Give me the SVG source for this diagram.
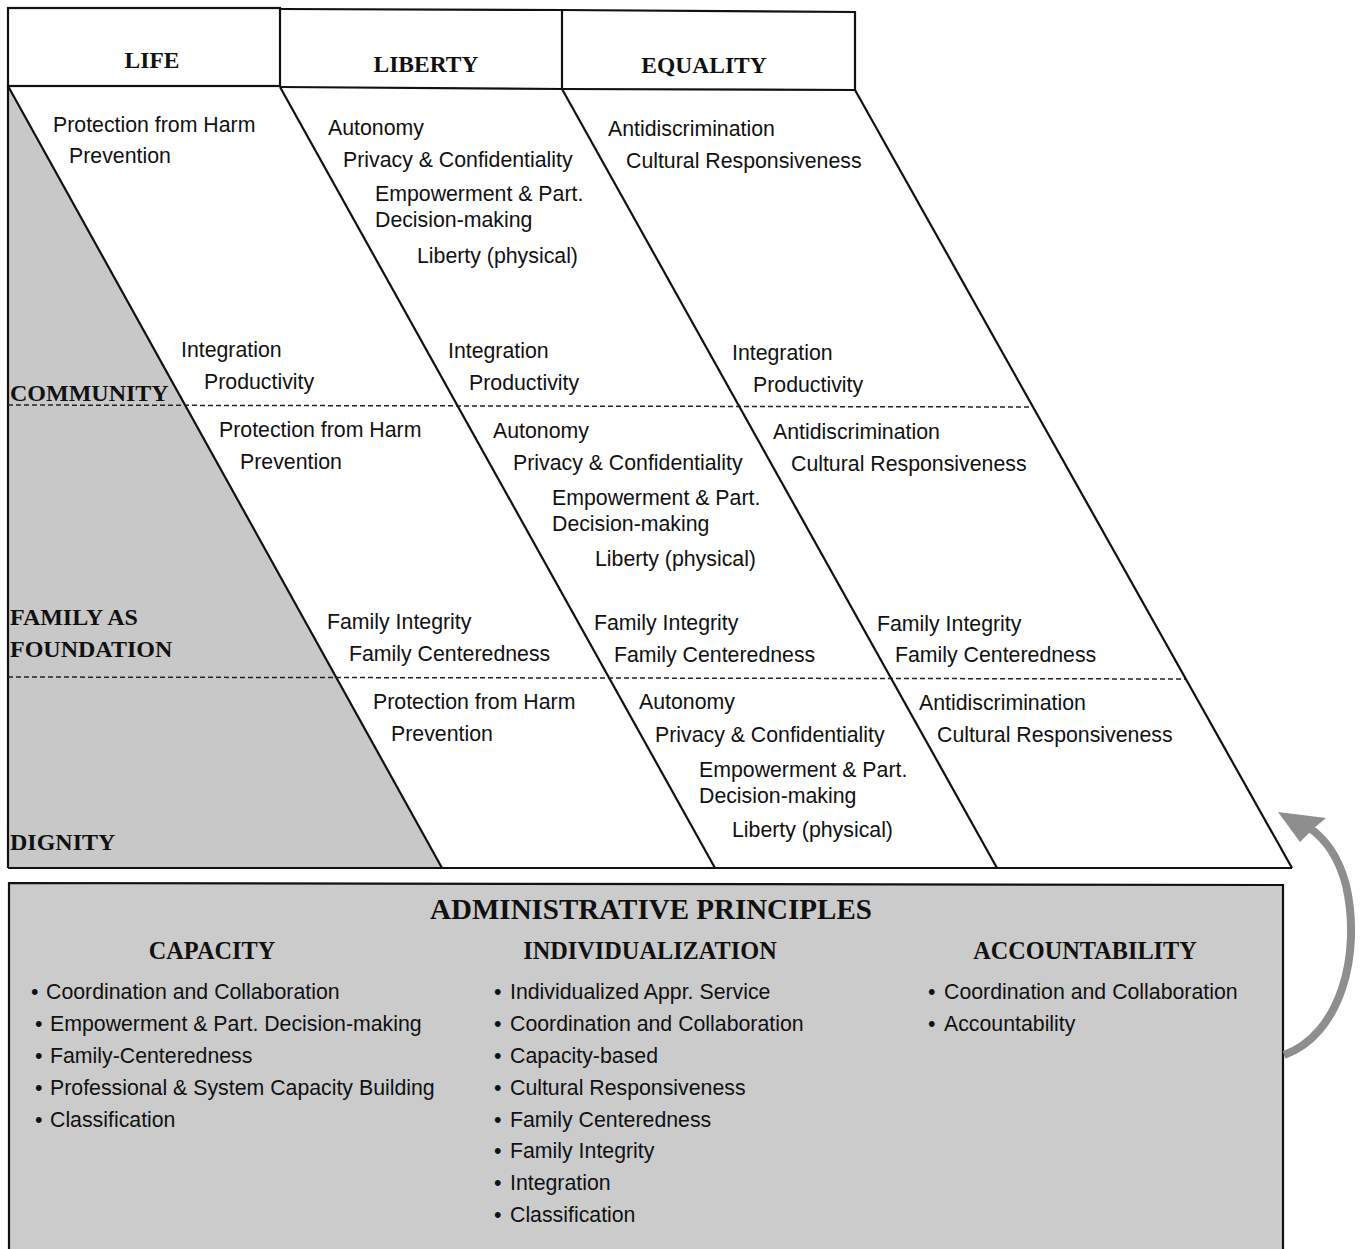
<svg xmlns="http://www.w3.org/2000/svg" width="1362" height="1249" viewBox="0 0 1362 1249">
<defs>
<style>
.ln{stroke:#111;stroke-width:2.2;fill:none}
.dash{stroke:#222;stroke-width:1.5;stroke-dasharray:5 3;fill:none}
.hd{font-family:"Liberation Serif",serif;font-weight:bold;font-size:23.5px;fill:#111;text-anchor:middle}
.rl{font-family:"Liberation Serif",serif;font-weight:bold;font-size:24px;fill:#111}
.tx{font-family:"Liberation Sans",Arial,sans-serif;font-size:21.3px;fill:#111}
.ah{font-family:"Liberation Serif",serif;font-weight:bold;font-size:24.3px;fill:#111;text-anchor:middle}
</style>
</defs>
<rect width="1362" height="1249" fill="#fff"/>

<g id="shading">
<polygon points="8,86 442,868 8,868" fill="#c8c8c8"/>
</g>

<g id="headers">
<g id="life"><rect x="8" y="8" width="272" height="78" class="ln"/><text x="152" y="68" class="hd">LIFE</text></g>
<g id="liberty"><path d="M280,9 L562,10 L562,89 L280,87" class="ln"/><text x="426" y="72" class="hd">LIBERTY</text></g>
<g id="equality"><path d="M562,10 L855,12 L855,90 L562,89" class="ln"/><text x="704" y="73" class="hd">EQUALITY</text></g>
</g>

<g id="connectors">
<line x1="8" y1="86" x2="8" y2="868" class="ln"/>
<line x1="8" y1="868" x2="1292" y2="868" class="ln"/>
<line x1="8" y1="86" x2="442" y2="868" class="ln"/>
<line x1="280" y1="87" x2="715" y2="868" class="ln"/>
<line x1="562" y1="89" x2="997" y2="868" class="ln"/>
<line x1="855" y1="90" x2="1292" y2="868" class="ln"/>
<line x1="8" y1="405" x2="1032" y2="407" class="dash"/>
<line x1="8" y1="677" x2="1185" y2="679" class="dash"/>
</g>

<g id="row-labels">
<text x="10" y="401" class="rl">COMMUNITY</text>
<text x="10" y="625" class="rl">FAMILY AS</text>
<text x="10" y="657" class="rl">FOUNDATION</text>
<text x="10" y="850" class="rl">DIGNITY</text>
</g>

<g id="community-row">
<text x="53" y="132" class="tx">Protection from Harm</text>
<text x="69" y="163" class="tx">Prevention</text>
<text x="328" y="135" class="tx">Autonomy</text>
<text x="343" y="167" class="tx">Privacy &amp; Confidentiality</text>
<text x="375" y="201" class="tx">Empowerment &amp; Part.</text>
<text x="375" y="227" class="tx">Decision-making</text>
<text x="417" y="263" class="tx">Liberty (physical)</text>
<text x="608" y="136" class="tx">Antidiscrimination</text>
<text x="626" y="168" class="tx">Cultural Responsiveness</text>
<text x="181" y="357" class="tx">Integration</text>
<text x="204" y="389" class="tx">Productivity</text>
<text x="448" y="358" class="tx">Integration</text>
<text x="469" y="390" class="tx">Productivity</text>
<text x="732" y="360" class="tx">Integration</text>
<text x="753" y="392" class="tx">Productivity</text>
</g>

<g id="family-row">
<text x="219" y="437" class="tx">Protection from Harm</text>
<text x="240" y="469" class="tx">Prevention</text>
<text x="493" y="438" class="tx">Autonomy</text>
<text x="513" y="470" class="tx">Privacy &amp; Confidentiality</text>
<text x="552" y="505" class="tx">Empowerment &amp; Part.</text>
<text x="552" y="531" class="tx">Decision-making</text>
<text x="595" y="566" class="tx">Liberty (physical)</text>
<text x="773" y="439" class="tx">Antidiscrimination</text>
<text x="791" y="471" class="tx">Cultural Responsiveness</text>
<text x="327" y="629" class="tx">Family Integrity</text>
<text x="349" y="661" class="tx">Family Centeredness</text>
<text x="594" y="630" class="tx">Family Integrity</text>
<text x="614" y="662" class="tx">Family Centeredness</text>
<text x="877" y="631" class="tx">Family Integrity</text>
<text x="895" y="662" class="tx">Family Centeredness</text>
</g>

<g id="dignity-row">
<text x="373" y="709" class="tx">Protection from Harm</text>
<text x="391" y="741" class="tx">Prevention</text>
<text x="639" y="709" class="tx">Autonomy</text>
<text x="655" y="742" class="tx">Privacy &amp; Confidentiality</text>
<text x="699" y="777" class="tx">Empowerment &amp; Part.</text>
<text x="699" y="803" class="tx">Decision-making</text>
<text x="732" y="837" class="tx">Liberty (physical)</text>
<text x="919" y="710" class="tx">Antidiscrimination</text>
<text x="937" y="742" class="tx">Cultural Responsiveness</text>
</g>

<g id="admin">
<path d="M9,1249 L9,883 L1283,885 L1283,1249" fill="#cbcbcb" stroke="#111" stroke-width="2.2"/>
<text x="651" y="919" class="ah" style="font-size:29px">ADMINISTRATIVE PRINCIPLES</text>
<text x="212" y="959" class="ah">CAPACITY</text>
<text x="650" y="959" class="ah">INDIVIDUALIZATION</text>
<text x="1085" y="959" class="ah">ACCOUNTABILITY</text>
<g class="tx">
<text x="31" y="999">•</text><text x="46" y="999">Coordination and Collaboration</text>
<text x="35" y="1031">•</text><text x="50" y="1031">Empowerment &amp; Part. Decision-making</text>
<text x="35" y="1063">•</text><text x="50" y="1063">Family-Centeredness</text>
<text x="35" y="1095">•</text><text x="50" y="1095">Professional &amp; System Capacity Building</text>
<text x="35" y="1127">•</text><text x="50" y="1127">Classification</text>
<text x="494" y="999">•</text><text x="510" y="999">Individualized Appr. Service</text>
<text x="494" y="1031">•</text><text x="510" y="1031">Coordination and Collaboration</text>
<text x="494" y="1063">•</text><text x="510" y="1063">Capacity-based</text>
<text x="494" y="1095">•</text><text x="510" y="1095">Cultural Responsiveness</text>
<text x="494" y="1127">•</text><text x="510" y="1127">Family Centeredness</text>
<text x="494" y="1158">•</text><text x="510" y="1158">Family Integrity</text>
<text x="494" y="1190">•</text><text x="510" y="1190">Integration</text>
<text x="494" y="1222">•</text><text x="510" y="1222">Classification</text>
<text x="928" y="999">•</text><text x="944" y="999">Coordination and Collaboration</text>
<text x="928" y="1031">•</text><text x="944" y="1031">Accountability</text>
</g>
</g>

<g id="arrow">
<path d="M1284,1055 C1340,1035 1362,955 1346,885 C1338,855 1325,838 1308,827" fill="none" stroke="#8e8e8e" stroke-width="8"/>
<polygon points="1278,812 1326,818 1314,828 1300,842" fill="#8e8e8e"/>
</g>
</svg>
